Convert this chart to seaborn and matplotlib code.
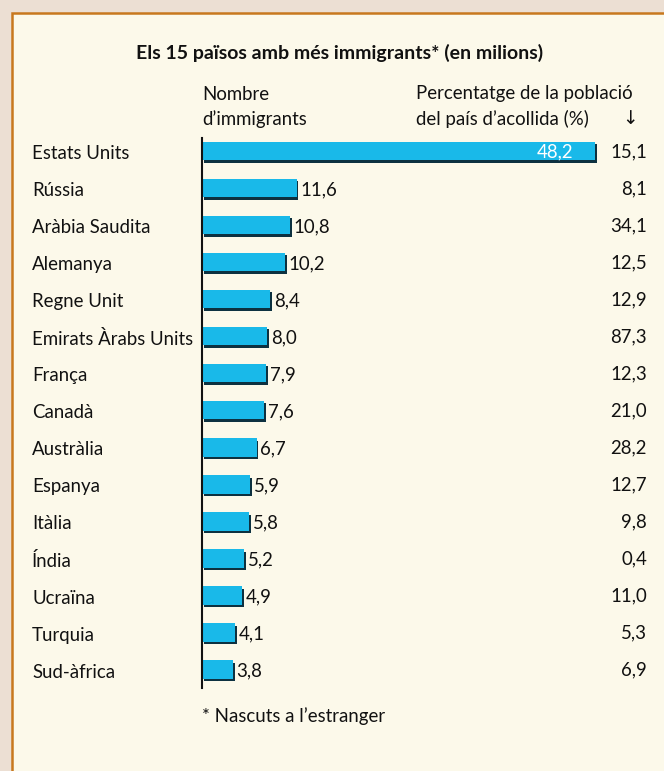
import matplotlib.pyplot as plt
import matplotlib.patheffects as pe
import matplotlib.transforms as mtransforms
from matplotlib.patches import Rectangle
import pandas as pd
import seaborn as sns

countries = ["Estats Units", "Rússia", "Aràbia Saudita", "Alemanya", "Regne Unit",
             "Emirats Àrabs Units", "França", "Canadà", "Austràlia", "Espanya",
             "Itàlia", "Índia", "Ucraïna", "Turquia", "Sud-àfrica"]
immigrants = [48.2, 11.6, 10.8, 10.2, 8.4, 8.0, 7.9, 7.6, 6.7, 5.9, 5.8, 5.2, 4.9, 4.1, 3.8]
pct_population = [15.1, 8.1, 34.1, 12.5, 12.9, 87.3, 12.3, 21.0, 28.2, 12.7, 9.8, 0.4, 11.0, 5.3, 6.9]

df = pd.DataFrame({"country": countries, "immigrants": immigrants, "pct": pct_population})

def fmt(v):
    return f"{v:.1f}".replace(".", ",")

sns.set_style("white")
plt.rcParams["font.family"] = ["Lato", "DejaVu Sans"]

W, H = 664, 771
fig = plt.figure(figsize=(W / 100, H / 100), dpi=100, facecolor="#ecdfd3")

# cream panel with orange border
fig.patches.append(Rectangle((15 / W, -0.05), 1.1, 1 - 16 / H + 0.05, transform=fig.transFigure,
                             facecolor="#d9c8b8", edgecolor="none", alpha=0.6, zorder=-10))
fig.patches.append(Rectangle((12 / W, -0.05), 1.1, 1 - 13 / H + 0.05, transform=fig.transFigure,
                             facecolor="#fcf9ea", edgecolor="#c8781e", linewidth=1.8, zorder=-9))

x0, x1 = 202, 648
y_top, y_bot = 138, 688
ax = fig.add_axes([x0 / W, 1 - y_bot / H, (x1 - x0) / W, (y_bot - y_top) / H])
ax.set_facecolor("none")

sns.barplot(data=df, y="country", x="immigrants", orient="h", color="#19b9e9",
            saturation=1, width=0.5, linewidth=0, ax=ax, zorder=3)
for bar in ax.patches:
    bar.set_path_effects([pe.SimplePatchShadow(offset=(1.3, -1.8), shadow_rgbFace="#0d3140", alpha=1),
                          pe.Normal()])

ax.set_xlim(0, (x1 - x0) / 8.15)
ax.set_ylim(14.5, -0.35)
ax.set_xlabel("")
ax.set_ylabel("")
ax.set_xticks([])
ax.set_yticks([])
for s in ["top", "right", "bottom"]:
    ax.spines[s].set_visible(False)
ax.spines["left"].set_color("#111111")
ax.spines["left"].set_linewidth(1.5)
ax.spines["left"].set_zorder(5)

fs = 13.4
trans = mtransforms.blended_transform_factory(fig.transFigure, ax.transData)
for i, row in df.iterrows():
    ax.text(32 / W, i + 0.07, row["country"], transform=trans, ha="left", va="center", fontsize=fs, color="#111111")
    ax.text(647 / W, i + 0.02, fmt(row["pct"]), transform=trans, ha="right", va="center", fontsize=fs, color="#111111")
    if i == 0:
        ax.text(row["immigrants"] - 2.6, i + 0.02, fmt(row["immigrants"]), ha="right", va="center",
                fontsize=fs, color="white", zorder=6)
    else:
        ax.text(row["immigrants"] + 0.45, i + 0.05, fmt(row["immigrants"]), ha="left", va="center",
                fontsize=fs, color="#111111", zorder=6)

fig.text(340 / W, 1 - 53 / H, "Els 15 països amb més immigrants* (en milions)", ha="center", va="center",
         fontsize=14, fontweight="bold", color="#111111")
fig.text(202 / W, 1 - 94 / H, "Nombre", ha="left", va="center", fontsize=fs, color="#111111")
fig.text(202 / W, 1 - 119 / H, "d’immigrants", ha="left", va="center", fontsize=fs, color="#111111")
fig.text(416 / W, 1 - 94 / H, "Percentatge de la població", ha="left", va="center", fontsize=fs, color="#111111")
fig.text(416 / W, 1 - 119 / H, "del país d’acollida (%)", ha="left", va="center", fontsize=fs, color="#111111")
fig.text(630 / W, 1 - 119 / H, "↓", ha="center", va="center", fontsize=fs, color="#111111",
         family=["DejaVu Sans"])
fig.text(202 / W, 1 - 716 / H, "* Nascuts a l’estranger", ha="left", va="center", fontsize=fs, color="#111111")

fig.savefig("out.png", dpi=100, facecolor=fig.get_facecolor())
